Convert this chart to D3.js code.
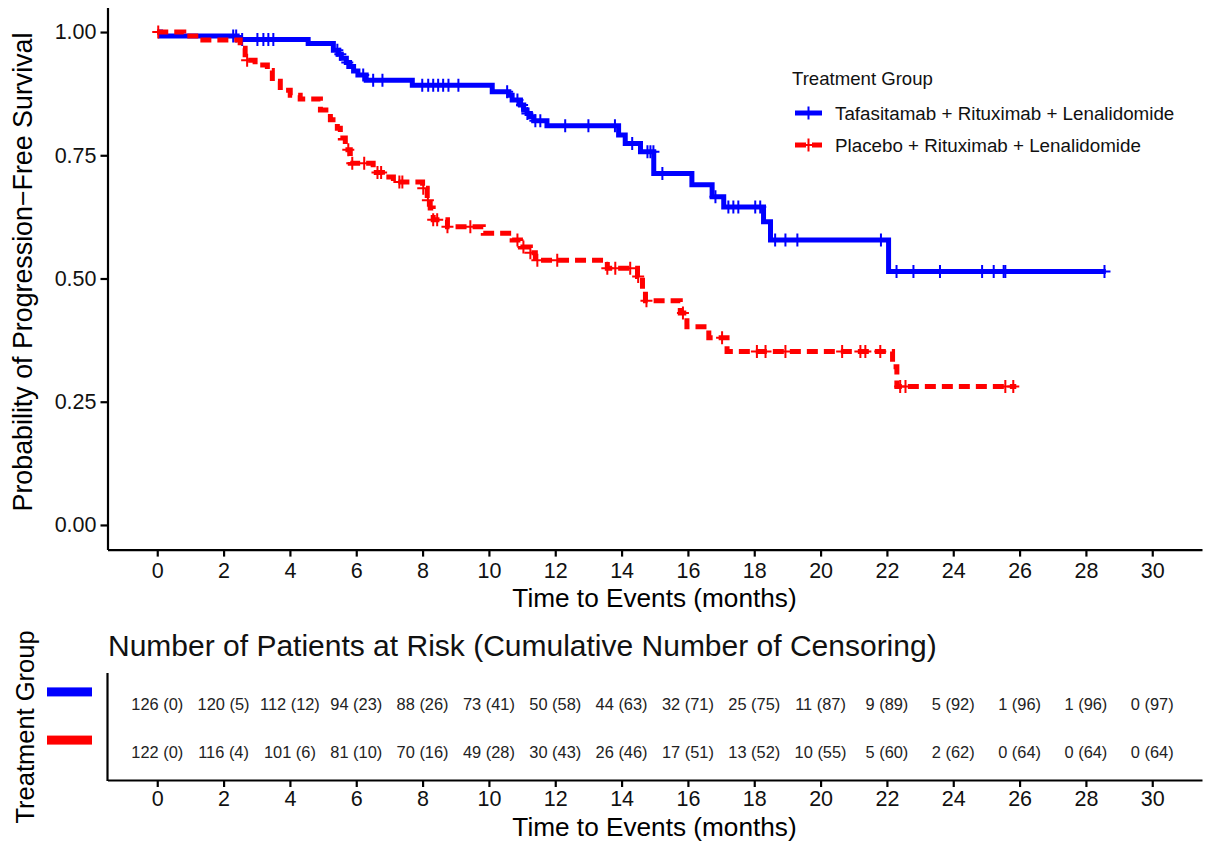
<!DOCTYPE html>
<html>
<head>
<meta charset="utf-8">
<script src="https://cdn.jsdelivr.net/npm/d3@7"></script>
<style>
  body { margin: 0; background: #fff; }
  text { font-family: "Liberation Sans", Arial, sans-serif; }
</style>
</head>
<body>
<svg id="km"></svg>
<script>
// Groups and colours
var groups = ["Tafasitamab + Rituximab + Lenalidomide", "Placebo + Rituximab + Lenalidomide"];
var colors = ["#0000ff", "#ff0000"];

// KM steps: [month, survival after the drop]
var tafaSteps = [[0.1, 0.992], [2.41, 0.985], [4.55, 0.977], [5.31, 0.963], [5.45, 0.955], [5.55, 0.947],
  [5.7, 0.938], [5.8, 0.930], [5.92, 0.921], [6.05, 0.913], [6.3, 0.902], [7.69, 0.892], [10.1, 0.879],
  [10.6, 0.872], [10.7, 0.862], [10.95, 0.852], [11.05, 0.842], [11.15, 0.835], [11.25, 0.828],
  [11.35, 0.820], [11.75, 0.810], [13.91, 0.791], [14.11, 0.774], [14.57, 0.757], [14.97, 0.713],
  [16.12, 0.690], [16.73, 0.666], [17.08, 0.645], [18.28, 0.615], [18.49, 0.578], [22.05, 0.514]];
var tafaCensor = [2.29, 2.38, 2.56, 3.02, 3.2, 3.35, 3.5, 5.43, 5.52, 5.73, 6.21, 6.51, 6.79, 7.99, 8.17,
  8.32, 8.47, 8.62, 8.78, 9.08, 10.55, 10.86, 11.0, 11.16, 11.4, 11.55, 12.3, 13.0, 13.8, 14.32, 14.78,
  14.87, 14.96, 15.23, 16.83, 17.22, 17.37, 17.52, 18.03, 18.18, 18.63, 18.94, 19.3, 21.82, 22.29, 22.8,
  23.6, 24.87, 25.22, 25.52, 25.57, 28.56];
var tafaEnd = 28.6;

var placSteps = [[0.8, 0.992], [1.25, 0.984], [2.5, 0.967], [2.65, 0.943], [2.95, 0.933], [3.32, 0.922],
  [3.47, 0.900], [3.71, 0.882], [4.01, 0.872], [4.31, 0.864], [4.92, 0.842], [5.22, 0.822], [5.43, 0.805],
  [5.52, 0.785], [5.67, 0.761], [5.82, 0.734], [6.51, 0.715], [6.79, 0.706], [7.12, 0.696], [8.0, 0.683],
  [8.14, 0.659], [8.23, 0.643], [8.32, 0.619], [8.75, 0.605], [9.83, 0.592], [10.7, 0.578], [10.95, 0.564],
  [11.25, 0.552], [11.4, 0.537], [13.57, 0.521], [14.48, 0.504], [14.63, 0.477], [14.72, 0.455],
  [15.77, 0.430], [15.97, 0.402], [16.63, 0.380], [17.18, 0.352], [22.17, 0.321], [22.3, 0.281]];
var placCensor = [0.03, 2.71, 5.76, 5.88, 6.24, 6.64, 6.75, 7.3, 7.39, 8.02, 8.16, 8.32, 8.44, 8.75, 9.44,
  10.86, 11.04, 11.25, 11.46, 12.06, 13.57, 13.81, 14.26, 14.5, 14.75, 15.85, 17.03, 18.08, 18.34, 18.94,
  20.65, 21.2, 21.35, 21.8, 22.4, 22.56, 25.57, 25.81];
var placEnd = 25.9;

// Risk table
var riskTimes = [0, 2, 4, 6, 8, 10, 12, 14, 16, 18, 20, 22, 24, 26, 28, 30];
var tafaRisk = ["126 (0)", "120 (5)", "112 (12)", "94 (23)", "88 (26)", "73 (41)", "50 (58)", "44 (63)",
  "32 (71)", "25 (75)", "11 (87)", "9 (89)", "5 (92)", "1 (96)", "1 (96)", "0 (97)"];
var placRisk = ["122 (0)", "116 (4)", "101 (6)", "81 (10)", "70 (16)", "49 (28)", "30 (43)", "26 (46)",
  "17 (51)", "13 (52)", "10 (55)", "5 (60)", "2 (62)", "0 (64)", "0 (64)", "0 (64)"];

var xTicks = d3.range(0, 31, 2);
var yTicks = [0, 0.25, 0.5, 0.75, 1];

var width = 1205, height = 843;
var svg = d3.select("#km").attr("width", width).attr("height", height);
svg.append("rect").attr("width", width).attr("height", height).attr("fill", "#fff");

var x = d3.scaleLinear().domain([-1.5, 31.5]).range([107.5, 1202]);
var y = d3.scaleLinear().domain([-0.05, 1.05]).range([549.6, 7.4]);

function styleAxis(g, size) {
  g.select(".domain").attr("stroke", "#000").attr("stroke-width", 2.2);
  g.selectAll(".tick line").attr("stroke", "#000").attr("stroke-width", 2.2);
  g.selectAll(".tick text").attr("fill", "#111").style("font-size", size + "px")
    .style("font-family", "'Liberation Sans', Arial, sans-serif");
}

// main axes
var gx = svg.append("g").attr("transform", "translate(0," + y(-0.05) + ")")
  .call(d3.axisBottom(x).tickValues(xTicks).tickSize(7).tickSizeOuter(0).tickPadding(6));
styleAxis(gx, 21.5);
var gy = svg.append("g").attr("transform", "translate(" + x(-1.5) + ",0)")
  .call(d3.axisLeft(y).tickValues(yTicks).tickFormat(d3.format(".2f")).tickSize(7).tickSizeOuter(0).tickPadding(4));
styleAxis(gy, 21.5);

svg.append("text").attr("x", 654.5).attr("y", 598).attr("dy", "0.35em")
  .attr("text-anchor", "middle").style("font-size", "26.2px").text("Time to Events (months)");
svg.append("text").attr("transform", "translate(23,272) rotate(-90)").attr("dy", "0.35em")
  .attr("text-anchor", "middle").style("font-size", "26.8px").text("Probability of Progression\u2212Free Survival");

// curves
function stepPoints(steps, end) {
  var pts = [[0, 1]].concat(steps);
  pts.push([end, steps[steps.length - 1][1]]);
  return pts;
}
function survAt(steps, t) {
  var s = 1;
  steps.forEach(function(d) { if (d[0] <= t) s = d[1]; });
  return s;
}
var line = d3.line().x(d => x(d[0])).y(d => y(d[1])).curve(d3.curveStepAfter);
var plus = "M-6,0H6M0,-6.5V6.5";

var series = [
  {steps: tafaSteps, censor: tafaCensor, end: tafaEnd, color: colors[0], dash: null},
  {steps: placSteps, censor: placCensor, end: placEnd, color: colors[1], dash: "11,6"}
];

series.forEach(function(s) {
  svg.append("path")
    .datum(stepPoints(s.steps, s.end))
    .attr("d", line)
    .attr("fill", "none")
    .attr("stroke", s.color)
    .attr("stroke-width", 5)
    .attr("stroke-dasharray", s.dash);
  svg.append("g").selectAll("path")
    .data(s.censor)
    .enter()
    .append("path")
    .attr("d", plus)
    .attr("transform", d => "translate(" + x(d) + "," + y(survAt(s.steps, d)) + ")")
    .attr("stroke", s.color)
    .attr("stroke-width", 2)
    .attr("fill", "none");
});

// legend
var legend = svg.append("g");
legend.append("text").attr("x", 792).attr("y", 78.5).attr("dy", "0.35em")
  .style("font-size", "18.6px").attr("fill", "#111").text("Treatment Group");
var legendY = [113, 145];
series.forEach(function(s, i) {
  legend.append("line").attr("x1", 795).attr("x2", 822).attr("y1", legendY[i]).attr("y2", legendY[i])
    .attr("stroke", s.color).attr("stroke-width", 5).attr("stroke-dasharray", s.dash);
  legend.append("path").attr("d", plus).attr("transform", "translate(808.5," + legendY[i] + ")")
    .attr("stroke", s.color).attr("stroke-width", 2);
  legend.append("text").attr("x", 835).attr("y", legendY[i]).attr("dy", "0.35em")
    .style("font-size", "18.8px").attr("fill", "#111").text(groups[i]);
});

// risk table
svg.append("text").attr("x", 108).attr("y", 645).attr("dy", "0.35em")
  .style("font-size", "30px").attr("fill", "#111")
  .text("Number of Patients at Risk (Cumulative Number of Censoring)");

var ry = d3.scalePoint().domain(groups).range([675, 781]).padding(0.6);

var rx = svg.append("g").attr("transform", "translate(0,780)")
  .call(d3.axisBottom(x).tickValues(xTicks).tickSize(7).tickSizeOuter(0).tickPadding(4));
styleAxis(rx, 21.5);
svg.append("line").attr("x1", x(-1.5)).attr("x2", x(-1.5)).attr("y1", 673).attr("y2", 781)
  .attr("stroke", "#000").attr("stroke-width", 2.2);

[tafaRisk, placRisk].forEach(function(row, i) {
  svg.append("g").selectAll("text")
    .data(row)
    .enter()
    .append("text")
    .attr("x", (d, j) => x(riskTimes[j]))
    .attr("y", ry(groups[i]))
    .attr("dy", "0.35em")
    .attr("text-anchor", "middle")
    .style("font-size", "16.4px")
    .attr("fill", "#222")
    .text(d => d);
  svg.append("rect")
    .attr("x", 47).attr("width", 45)
    .attr("y", ry(groups[i]) - 16.5).attr("height", 9)
    .attr("fill", colors[i]);
});

svg.append("text").attr("x", 654.5).attr("y", 827).attr("dy", "0.35em")
  .attr("text-anchor", "middle").style("font-size", "26.2px").text("Time to Events (months)");
svg.append("text").attr("transform", "translate(25,727) rotate(-90)").attr("dy", "0.35em")
  .attr("text-anchor", "middle").style("font-size", "25.5px").text("Treatment Group");
</script>
</body>
</html>
